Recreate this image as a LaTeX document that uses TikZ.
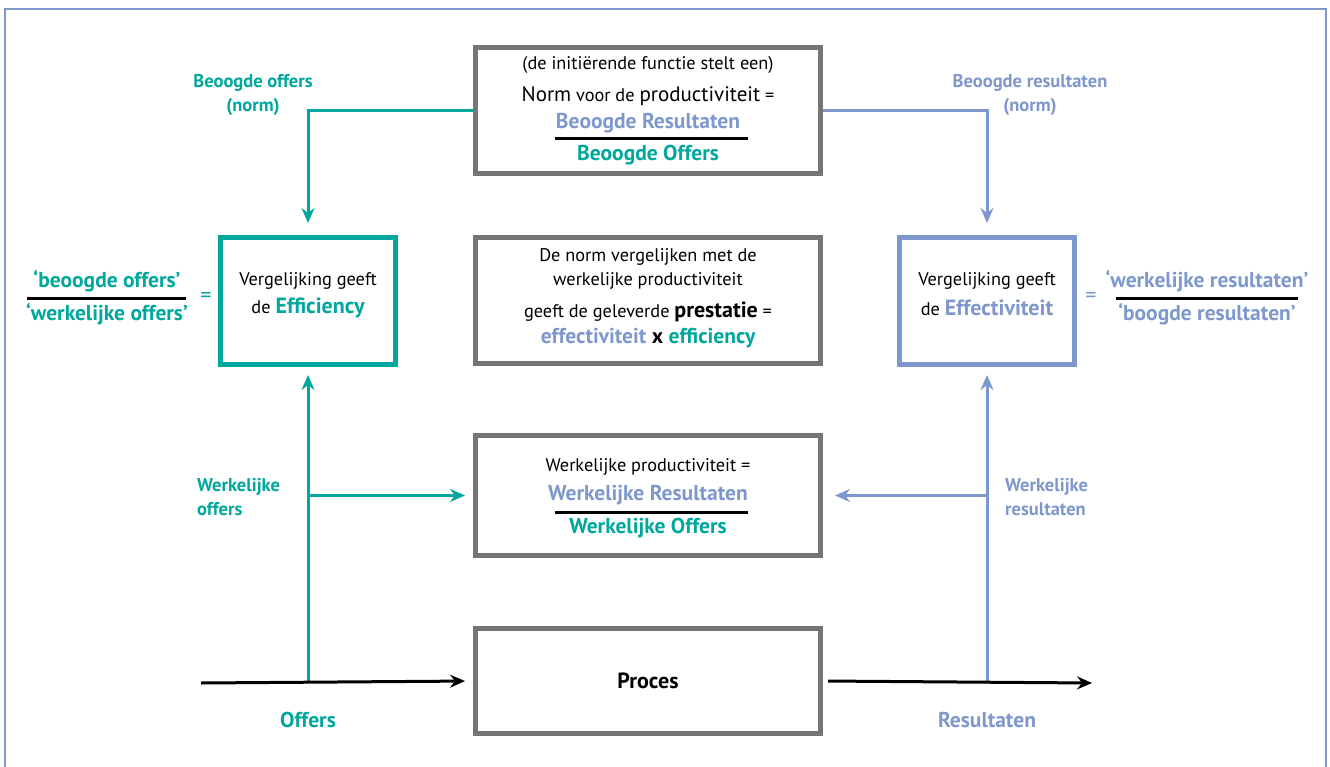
\documentclass[tikz,border=0pt]{standalone}
\usepackage{fontspec}
\setmainfont{PT Sans}
\usetikzlibrary{arrows.meta}

\definecolor{offc}{HTML}{00A79D}
\definecolor{resc}{HTML}{7E97CC}
\definecolor{boxgray}{HTML}{767676}

\newcommand\fsbig{\fontsize{21}{23}\selectfont}
\newcommand\fsbold{\fontsize{22}{24}\selectfont\bfseries}

\tikzset{
  frame/.style={draw=resc, line width=2.5pt},
  graybox/.style={draw=boxgray, line width=5pt, minimum width=345pt, inner sep=0pt},
  colbox/.style={line width=5pt, minimum width=175pt, minimum height=127pt, inner sep=0pt},
  txt/.style={inner sep=0pt, font=\fontsize{18.3}{20}\selectfont},
  bt/.style={inner sep=0pt, font=\fontsize{21.5}{24}\selectfont\bfseries},
  lbl/.style={inner sep=0pt, align=center, font=\fontsize{18.5}{24}\selectfont\bfseries},
  rule/.style={line width=3pt, black},
  conn/.style={line width=3pt, -{Stealth[length=15pt,width=13pt,inset=5pt]}},
}

\begin{document}
\begin{tikzpicture}[x=1pt,y=-1pt]
\useasboundingbox (0,0) rectangle (1330,767);
\draw[frame] (5,770) -- (5,9) -- (1326,9) -- (1326,770);

% boxes
\node[graybox, minimum height=126pt] (normbox) at (648,110.5) {};
\node[graybox, minimum height=126pt] (cmpbox) at (648,300.5) {};
\node[graybox, minimum height=120pt] (prodbox) at (648,495.5) {};
\node[graybox, minimum height=105pt, font=\fontsize{22}{24}\selectfont\bfseries] (procbox) at (648,681) {Proces};
\node[colbox, draw=offc] (effbox) at (308,301) {};
\node[colbox, draw=resc] (efvbox) at (987,301) {};

% norm box text
\node[txt] (n1) at (648,65) {(de initiërende functie stelt een)};
\node[txt] (n2) at (648,96) {{\fsbig Norm} voor de {\fsbig productiviteit} =};
\node[bt, text=resc] (n3) at (648,123) {Beoogde Resultaten};
\draw[rule] (555,139) -- (748,139);
\node[bt, text=offc] (n4) at (648,155) {Beoogde Offers};

% comparison box text
\node[txt] (c1) at (648,257) {De norm vergelijken met de};
\node[txt] (c2) at (648,281) {werkelijke productiviteit};
\node[txt] (c3) at (648,312) {geeft de geleverde {\fsbold prestatie} =};
\node[bt] (c4) at (648,338) {\textcolor{resc}{effectiviteit} x \textcolor{offc}{efficiency}};

% actual productivity box text
\node[txt] (p1) at (648,467) {Werkelijke productiviteit =};
\node[bt, text=resc] (p2) at (648,495) {Werkelijke Resultaten};
\draw[rule] (555,512) -- (748,512);
\node[bt, text=offc] (p3) at (648,528) {Werkelijke Offers};

% efficiency / effectiveness box text
\node[txt] (e1) at (308,281) {Vergelijking geeft};
\node[txt] (e2) at (308,308) {de {\fsbold\color{offc}Efficiency}};
\node[txt] (v1) at (987,281) {Vergelijking geeft};
\node[txt] (v2) at (987,308) {de {\fsbold\color{resc}Effectiviteit}};

% side fractions
\node[bt, text=offc] (f1) at (107,281) {‘beoogde offers’};
\draw[rule] (27,298) -- (186,298);
\node[bt, text=offc] (f2) at (107,314) {‘werkelijke offers’};
\node[bt, text=offc, font=\fontsize{22}{24}\selectfont] (eqL) at (206,297) {=};
\node[bt, text=resc, font=\fontsize{22}{24}\selectfont] (eqR) at (1091,297) {=};
\node[bt, text=resc] (g1) at (1207,281) {‘werkelijke resultaten’};
\draw[rule] (1116,298) -- (1298,298);
\node[bt, text=resc] (g2) at (1207,314) {‘boogde resultaten’};

% flow labels
\node[lbl, text=offc] (lBO) at (253,95) {Beoogde offers\\(norm)};
\node[lbl, text=resc] (lBR) at (1030,95) {Beoogde resultaten\\(norm)};
\node[lbl, text=offc, align=left, anchor=west] (lWO) at (197,497) {Werkelijke\\offers};
\node[lbl, text=resc, align=left, anchor=west] (lWR) at (1005,497) {Werkelijke\\resultaten};
\node[bt, text=offc] (lO) at (308,720) {Offers};
\node[bt, text=resc] (lR) at (987,720) {Resultaten};

% free ends of the main flow
\coordinate (inS) at (201,683);
\coordinate (outE) at (1092,683);

% connectors
\draw[conn, color=offc, shorten >=12pt] (normbox.west) -| (effbox.north);
\draw[conn, color=resc, shorten >=12pt] (normbox.east) -| (efvbox.north);
\draw[conn, color=offc, shorten >=8pt] (effbox.south |- inS) -- (effbox.south);
\draw[conn, color=offc, shorten >=8pt] (effbox.south |- prodbox.west) -- (prodbox.west);
\draw[conn, color=resc, shorten >=8pt] (efvbox.south |- outE) -- (efvbox.south);
\draw[conn, color=resc, shorten >=12pt] (efvbox.south |- prodbox.east) -- (prodbox.east);
\draw[conn, color=black, shorten >=8pt] (inS) -- (procbox.west);
\draw[conn, color=black, shorten <=5pt] (procbox.east) -- (outE);
\end{tikzpicture}
\end{document}
